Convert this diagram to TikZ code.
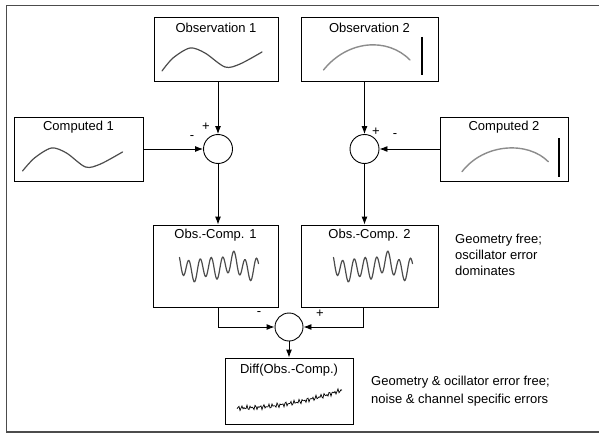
\documentclass[tikz,border=0pt]{standalone}
\usepackage{fontspec}
\setmainfont{Liberation Sans}
\usetikzlibrary{arrows.meta}

\tikzset{
  box/.style={draw,line width=0.9pt,inner sep=0pt},
  sum/.style={draw,circle,line width=0.9pt,minimum size=29pt,inner sep=0pt},
  title/.style={inner sep=0pt},
  sign/.style={inner sep=0pt},
  flow/.style={line width=0.9pt,-{Latex[length=8pt,width=6pt]}},
  trace/.style={black!70,line width=1.2pt,line cap=round},
  arc/.style={black!45,line width=1.4pt,line cap=round},
  bar/.style={line width=2pt},
  note/.style={anchor=north west,align=left,inner sep=0pt}
}

\begin{document}
\begin{tikzpicture}[x=1pt,y=-1pt,font=\fontsize{13}{16}\selectfont]
    \useasboundingbox (0,0) rectangle (599,433);
    \draw[line width=1.5pt,black!70] (599,5.5) -- (6.5,5.5) -- (6.5,432) -- (599,432);

    \node[box,minimum width=124pt,minimum height=64pt] (obsA) at (216,49) {};
    \node[box,minimum width=137pt,minimum height=64pt] (obsB) at (369.5,49) {};
    \node[box,minimum width=129pt,minimum height=64pt] (compA) at (78.5,149) {};
    \node[box,minimum width=128pt,minimum height=64pt] (compB) at (504,149) {};
    \node[sum] (sumA) at (218,149) {};
    \node[sum] (sumB) at (364.5,149) {};
    \node[box,minimum width=125pt,minimum height=82pt] (difA) at (215.5,266) {};
    \node[box,minimum width=137pt,minimum height=82pt] (difB) at (369.5,266) {};
    \node[sum,minimum size=28pt] (sumC) at (289,327) {};
    \node[box,minimum width=128pt,minimum height=66pt] (dd) at (289,391) {};

    \node[title] (tObsA) at ([yshift=-11pt]obsA.north) {Observation 1};
    \node[title] (tObsB) at ([yshift=-11pt]obsB.north) {Observation 2};
    \node[title] (tCompA) at ([yshift=-10.5pt]compA.north) {Computed 1};
    \node[title] (tCompB) at ([yshift=-10.5pt]compB.north) {Computed 2};
    \node[title] (tDifA) at ([yshift=-10.5pt]difA.north) {Obs.-Comp. 1};
    \node[title] (tDifB) at ([yshift=-10.5pt]difB.north) {Obs.-Comp. 2};
    \node[title] (tDd) at ([yshift=-13pt]dd.north) {Diff(Obs.-Comp.)};

    \draw[flow] (sumA.north |- obsA.south) -- (sumA.north);
    \draw[flow] (compA.east) -- (sumA.west);
    \draw[flow] (sumA.south) -- (sumA.south |- difA.north);
    \draw[flow] (sumB.north |- obsB.south) -- (sumB.north);
    \draw[flow] (compB.west) -- (sumB.east);
    \draw[flow] (sumB.south) -- (sumB.south |- difB.north);
    \draw[flow] (sumA.south |- difA.south) |- (sumC.west);
    \draw[flow] ([xshift=-1.5pt]sumB.south |- difB.south) |- (sumC.east);
    \draw[flow] (sumC.south) -- (dd.north);

    \node[sign] (pA) at ([shift={(-12,-22)}]sumA.center) {+};
    \node[sign] (mA) at ([shift={(-26,-11)}]sumA.center) {-};
    \node[sign] (pB) at ([shift={(11.5,-17)}]sumB.center) {+};
    \node[sign] (mB) at ([shift={(30.5,-13)}]sumB.center) {-};
    \node[sign] (mC) at ([shift={(-30,-13)}]sumC.center) {-};
    \node[sign] (pC) at ([shift={(31,-13)}]sumC.center) {+};

    \begin{scope}[shift={(obsA.center)}]
        \draw[trace] plot[smooth] coordinates {(-54,22) (-43,9) (-26,-1) (-11,4) (9,18) (24,15) (46,3)};
    \end{scope}
    \begin{scope}[shift={(compA.center)}]
        \draw[trace] plot[smooth] coordinates {(-56,22) (-44,9) (-27,-1) (-12,4) (7,18) (22,15) (44,3)};
    \end{scope}
    \begin{scope}[shift={(obsB.center)}]
        \draw[arc] (-46,21) .. controls (-22,-9) and (18,-12) .. (40.5,11);
        \draw[bar] (52.5,-12) -- (52.5,26);
    \end{scope}
    \begin{scope}[shift={(compB.center)}]
        \draw[arc] (-42,22.7) .. controls (-20,-6) and (24,-8) .. (44.3,12.7);
        \draw[bar] (55,-11) -- (55,28);
    \end{scope}
    \begin{scope}[shift={(difA.center)}]
        \draw[trace] plot[smooth,domain=-36:43,samples=120] (\x,{1+10*sin((\x+36)*32-30)+3*sin(\x*13+40)-3*sin(\x*6)});
    \end{scope}
    \begin{scope}[shift={(difB.center)}]
        \draw[trace] plot[smooth,domain=-36:43,samples=120] (\x,{1+10*sin((\x+36)*32-30)+3*sin(\x*13+40)-3*sin(\x*6)});
    \end{scope}
    \begin{scope}[shift={(dd.center)}]
        \draw[line width=0.7pt] plot[domain=-52:53,samples=106] (\x,{17-18*((\x+52)/105)^2+1.6*sin(\x*131)+1.2*sin(\x*277)});
    \end{scope}

    \node[note] (noteA) at (455,234) {Geometry free;\\oscillator error\\dominates};
    \node[note,font=\fontsize{13}{18.3}\selectfont] (noteB) at (371,376) {Geometry \& ocillator error free;\\noise \& channel specific errors};
\end{tikzpicture}
\end{document}
